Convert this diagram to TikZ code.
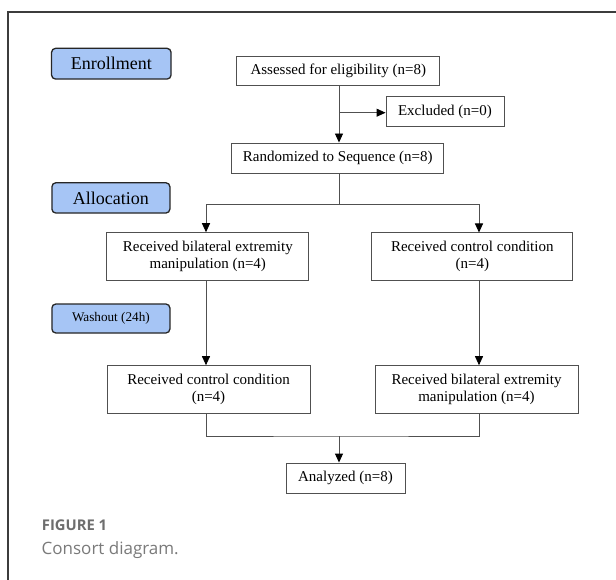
\documentclass[tikz,border=0pt]{standalone}
\usepackage{fontspec}
\setmainfont{Liberation Serif}
\newfontfamily\capfont{Open Sans}
\usetikzlibrary{arrows.meta}
\definecolor{stageblue}{HTML}{A6C5F5}
\definecolor{framegray}{HTML}{3C3C3C}
\definecolor{boxgray}{HTML}{505050}
\definecolor{capgray}{HTML}{6E6E6E}
\definecolor{capgray2}{HTML}{7A7A7A}
\begin{document}
\begin{tikzpicture}[x=1pt,y=-1pt,
  stage/.style={draw=black!85, line width=1.3pt, fill=stageblue, rounded corners=4pt,
     inner sep=0pt, align=center},
  flowbox/.style={draw=boxgray, line width=0.9pt, fill=white, inner sep=0pt,
     align=center, font=\fontsize{15}{17}\selectfont},
  conn/.style={draw=boxgray, line width=0.9pt},
  arr/.style={conn, -{Triangle[length=9pt,width=8pt,color=black,fill=black]}}
]
\useasboundingbox (0,0) rectangle (616,580);
\fill[white] (0,0) rectangle (616,580);
% frame
\draw[framegray, line width=1.2pt] (8,580) -- (8,12) -- (616,12);

% stage labels
\node[stage, minimum width=119.5pt, minimum height=30.7pt, font=\fontsize{18}{20}\selectfont]
  (enroll) at (111.3,63.7) {Enrollment};
\node[stage, minimum width=118pt, minimum height=30.3pt, font=\fontsize{18}{20}\selectfont]
  (alloc) at (110.9,197.9) {Allocation};
\node[stage, minimum width=118pt, minimum height=29pt, font=\fontsize{13.2}{15}\selectfont]
  (wash) at (110.9,318.5) {Washout (24h)};

% flow boxes
\node[flowbox, minimum width=203pt, minimum height=29.3pt] (assess) at (338.3,71.3) {Assessed for eligibility (n=8)};
\node[flowbox, minimum width=118pt, minimum height=30pt] (excl) at (445,111.7) {Excluded (n=0)};
\node[flowbox, minimum width=212pt, minimum height=30pt] (rand) at (337.8,158) {Randomized to Sequence (n=8)};
\node[flowbox, minimum width=202pt, minimum height=48pt] (lb1) at (207.8,256.7) {Received bilateral extremity\\manipulation (n=4)};
\node[flowbox, minimum width=201pt, minimum height=47.7pt] (rb1) at (472.3,256.8) {Received control condition\\(n=4)};
\node[flowbox, minimum width=203pt, minimum height=47.3pt] (lb2) at (208.5,389.3) {Received control condition\\(n=4)};
\node[flowbox, minimum width=203pt, minimum height=47.3pt] (rb2) at (476.5,389.3) {Received bilateral extremity\\manipulation (n=4)};
\node[flowbox, minimum width=119pt, minimum height=30pt] (anal) at (345.5,478) {Analyzed (n=8)};

% column and junction coordinates
\coordinate (cmain) at (339,0);
\coordinate (cleft) at (206,0);
\coordinate (cright) at (479,0);
\coordinate (jexcl) at (339,112.7);
\coordinate (jsplit) at (339,204);
\coordinate (jmerge) at (339,436);

% connectors
\draw[arr] (assess.south -| cmain) -- (rand.north -| cmain);
\draw[arr] (jexcl) -- (excl.west |- jexcl);
\draw[conn] (rand.south -| cmain) -- (jsplit);
\draw[arr] (jsplit) -| (lb1.north -| cleft);
\draw[arr] (jsplit) -| (rb1.north -| cright);
\draw[arr] (lb1.south -| cleft) -- (lb2.north -| cleft);
\draw[arr] (rb1.south -| cright) -- (rb2.north -| cright);
\draw[conn] (lb2.south -| cleft) |- (jmerge) -| (rb2.south -| cright);
\draw[arr] (jmerge) -- (anal.north -| cmain);

% caption
\node[anchor=base west, inner sep=0pt, text=capgray, font=\capfont\bfseries\fontsize{14.8}{17}\selectfont]
  (figlabel) at (41.7,530.7) {FIGURE 1};
\node[anchor=base west, inner sep=0pt, text=capgray2, font=\capfont\fontsize{17}{20}\selectfont]
  (figcap) at (41.5,554) {Consort diagram.};
\end{tikzpicture}
\end{document}
